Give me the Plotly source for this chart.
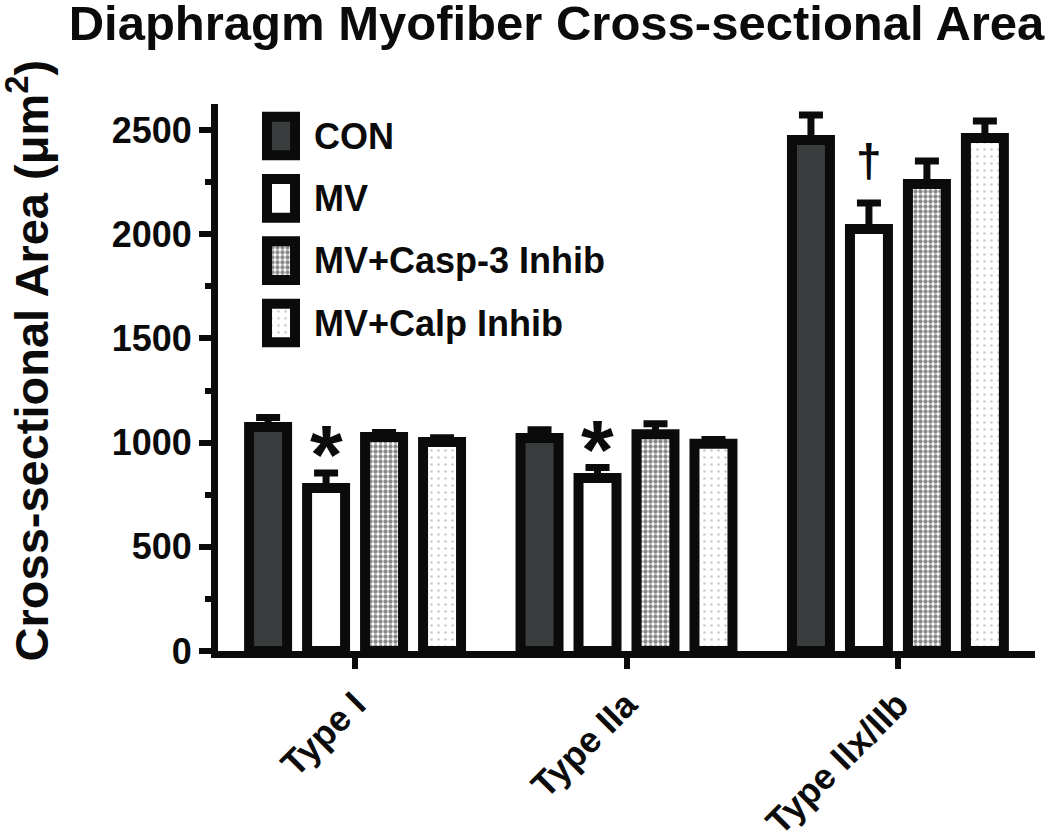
import plotly.graph_objects as go

# data
categories = ["Type I", "Type IIa", "Type IIx/IIb"]
group_pos = [0, 1, 2]
series_names = ["CON", "MV", "MV+Casp-3 Inhib", "MV+Calp Inhib"]

con = [1075, 1022, 2452]
con_err = [45, 40, 120]
mv = [782, 830, 2025]
mv_err = [72, 50, 125]
casp = [1027, 1040, 2241]
casp_err = [22, 50, 110]
calp = [1003, 995, 2462]
calp_err = [20, 20, 81]

y_ticks = [0, 500, 1000, 1500, 2000, 2500]

FONT = "Liberation Sans, Arial, sans-serif"
BLACK = "#0b0b0b"
BARGAP = 0.1455
SLOT = (1 - BARGAP) / 4

styles = [
    dict(color="#3a3d3e", line=dict(color=BLACK, width=10)),
    dict(color="white", line=dict(color=BLACK, width=10)),
    dict(color="white", line=dict(color=BLACK, width=10),
         pattern=dict(shape=".", fgcolor="#141414", bgcolor="white", size=5, solidity=0.6)),
    dict(color="white", line=dict(color=BLACK, width=10),
         pattern=dict(shape=".", fgcolor="#9a9a9a", bgcolor="white", size=7, solidity=0.12)),
]

fig = go.Figure()

values = [con, mv, casp, calp]
errors = [con_err, mv_err, casp_err, calp_err]

# bars
for name, vals, errs, st in zip(series_names, values, errors, styles):
    fig.add_trace(
        go.Bar(
            x=group_pos,
            y=vals,
            name=name,
            marker=st,
            error_y=dict(type="data", array=errs, arrayminus=[0] * len(errs),
                         symmetric=False, color=BLACK, thickness=7, width=12),
            showlegend=False,
        )
    )

# legend swatches drawn on a small side subplot
for name, st in zip(series_names, styles):
    fig.add_trace(
        go.Bar(
            y=[name],
            x=[28],
            base=[27],
            width=0.62,
            orientation="h",
            marker=st,
            xaxis="x2",
            yaxis="y2",
            showlegend=False,
            hoverinfo="skip",
        )
    )

# significance marks
fig.add_annotation(x=group_pos[0] - 0.5 * SLOT, y=mv[0] + mv_err[0], text="*",
                   showarrow=False, yanchor="middle", yshift=18,
                   font=dict(family=FONT, size=84, color=BLACK, weight="bold"))
fig.add_annotation(x=group_pos[1] - 0.5 * SLOT, y=mv[1] + mv_err[1], text="*",
                   showarrow=False, yanchor="middle", yshift=18,
                   font=dict(family=FONT, size=84, color=BLACK, weight="bold"))
fig.add_annotation(x=group_pos[2] - 0.5 * SLOT, y=mv[2] + mv_err[2], text="†",
                   showarrow=False, yanchor="middle", yshift=42,
                   font=dict(family=FONT, size=46, color=BLACK, weight="bold"))

# y axis title
fig.add_annotation(xref="paper", yref="paper", x=-0.232, y=0.532,
                   text="Cross-sectional Area (μm<sup>2</sup>)", textangle=-90,
                   showarrow=False, xanchor="center", yanchor="middle",
                   font=dict(family=FONT, size=47, color=BLACK, weight="bold"))

fig.update_layout(
    width=1050,
    height=838,
    barmode="group",
    bargap=BARGAP,
    bargroupgap=0.345,
    plot_bgcolor="white",
    paper_bgcolor="white",
    margin=dict(l=218, r=15, t=104, b=187, autoexpand=False),
    font=dict(family=FONT, color=BLACK, weight="bold"),
    title=dict(
        text="Diaphragm Myofiber Cross-sectional Area",
        x=0.53, xanchor="center", xref="container",
        y=0.973, yanchor="middle", yref="container",
        font=dict(family=FONT, size=49, color=BLACK, weight="bold"),
    ),
    xaxis=dict(
        range=[-0.505, 2.505],
        tickvals=group_pos,
        ticktext=categories,
        tickangle=-45,
        ticks="outside",
        ticklen=11,
        tickwidth=6,
        tickcolor=BLACK,
        showline=True,
        linewidth=7,
        linecolor=BLACK,
        showgrid=False,
        zeroline=False,
        automargin=False,
        tickfont=dict(family=FONT, size=36, color=BLACK, weight="bold"),
    ),
    yaxis=dict(
        range=[0, 2625],
        tickvals=y_ticks,
        ticks="outside",
        ticklen=12,
        tickwidth=6,
        tickcolor=BLACK,
        showline=True,
        linewidth=7,
        linecolor=BLACK,
        showgrid=False,
        zeroline=False,
        automargin=False,
        minor=dict(dtick=250, ticks="outside", ticklen=6, tickwidth=6, tickcolor=BLACK),
        tickfont=dict(family=FONT, size=36, color=BLACK, weight="bold"),
    ),
    xaxis2=dict(
        domain=[0.0269, 0.1065],
        range=[0, 65],
        anchor="y2",
        visible=False,
        fixedrange=True,
    ),
    yaxis2=dict(
        domain=[0.5426, 0.9985],
        anchor="x2",
        side="right",
        categoryorder="array",
        categoryarray=series_names,
        autorange="reversed",
        showline=False,
        showgrid=False,
        zeroline=False,
        automargin=False,
        ticks="",
        ticklabelstandoff=8,
        fixedrange=True,
        tickfont=dict(family=FONT, size=36, color=BLACK, weight="bold"),
    ),
)

# drop the browser's default page margin so the figure sits at the window corner
fig.write_html("out.html", config={"displayModeBar": False},
               post_script="document.body.style.margin='0';")
